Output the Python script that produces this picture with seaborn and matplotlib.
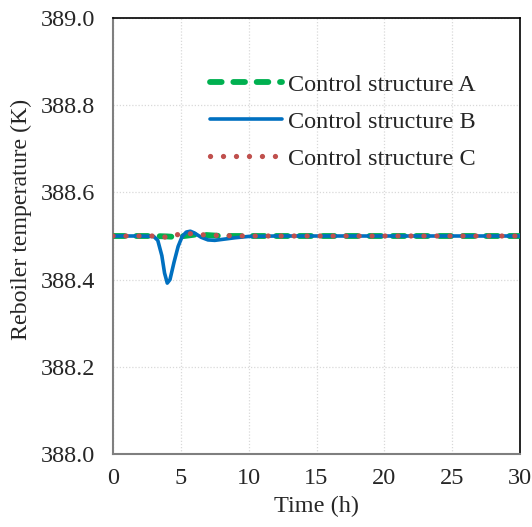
import matplotlib
matplotlib.use("Agg")
import matplotlib.pyplot as plt
import seaborn as sns
import pandas as pd

# Data
time_a = [0, 2, 3, 4, 4.5, 5, 5.5, 6, 6.5, 7, 7.5, 8, 10, 15, 20, 25, 30]
temp_a = [388.5, 388.5, 388.5, 388.499, 388.498, 388.499, 388.501, 388.503, 388.503, 388.502, 388.501, 388.5, 388.5, 388.5, 388.5, 388.5, 388.5]

time_b = [0, 1, 2, 3, 3.3, 3.6, 3.8, 4.0, 4.2, 4.5, 4.8, 5.1, 5.4, 5.7, 6.0, 6.5, 7.0, 7.5, 8.0, 9, 10, 12, 15, 20, 25, 30]
temp_b = [388.5, 388.5, 388.5, 388.499, 388.49, 388.455, 388.415, 388.392, 388.40, 388.44, 388.476, 388.499, 388.509, 388.511, 388.507, 388.497, 388.491, 388.49, 388.492, 388.496, 388.499, 388.5, 388.5, 388.5, 388.5, 388.5]

time_c = [0, 2, 3, 3.5, 4, 4.5, 5, 5.5, 6, 7, 8, 10, 15, 20, 25, 30]
temp_c = [388.5, 388.5, 388.5, 388.499, 388.497, 388.501, 388.505, 388.506, 388.504, 388.502, 388.501, 388.5, 388.5, 388.5, 388.5, 388.5]

labels = ["Control structure A", "Control structure B", "Control structure C"]
x_ticks = [0, 5, 10, 15, 20, 25, 30]
y_ticks = [388.0, 388.2, 388.4, 388.6, 388.8, 389.0]

df = pd.concat([
    pd.DataFrame({"t": time_a, "T": temp_a, "s": labels[0]}),
    pd.DataFrame({"t": time_b, "T": temp_b, "s": labels[1]}),
    pd.DataFrame({"t": time_c, "T": temp_c, "s": labels[2]}),
])

sns.set_style("white")
plt.rcParams["font.family"] = ["Liberation Serif", "DejaVu Serif"]

fig = plt.figure(figsize=(5.32, 5.27), dpi=100)
ax = fig.add_axes([113 / 532, 1 - 454 / 527, 407 / 532, 436 / 527])

styles = {
    labels[0]: dict(color="#00B050", lw=4.2, dashes=(2.0, 2.0), zorder=3),
    labels[1]: dict(color="#0070C0", lw=2.6, dashes=None, zorder=4),
    labels[2]: dict(color="#C0504D", lw=3.8, dashes=(0.01, 2.45), zorder=5),
}
for lab in labels:
    sub = df[df["s"] == lab]
    st = styles[lab]
    sns.lineplot(data=sub, x="t", y="T", ax=ax, label=lab, color=st["color"],
                 linewidth=st["lw"], zorder=st["zorder"])
    l = ax.get_lines()[-1]
    if st["dashes"] is not None:
        l.set_dashes(st["dashes"])
        l.set_dash_capstyle("round")

ax.set_xlim(0, 30)
ax.set_ylim(388.0, 389.0)
ax.set_xticks(x_ticks)
ax.set_yticks(y_ticks)
ax.set_xticklabels([str(v) for v in x_ticks])
ax.set_yticklabels([f"{v:.1f}" for v in y_ticks])
ax.tick_params(length=0, labelsize=17.5)
ax.tick_params(axis="y", pad=13)
ax.tick_params(axis="x", pad=10)
ax.set_xlabel("Time (h)", fontsize=17.5, labelpad=5)
ax.set_ylabel("Reboiler temperature (K)", fontsize=17.2)
ax.yaxis.set_label_coords(-0.2, 0.539)
ax.grid(True, color="#D9D9D9", linestyle=(0, (1, 1.5)), linewidth=0.9)

for side in ["left", "bottom"]:
    ax.spines[side].set_color("#7F7F7F")
    ax.spines[side].set_linewidth(1.5)
for side in ["top", "right"]:
    ax.spines[side].set_color("black")
    ax.spines[side].set_linewidth(1.2)

handles, labs = ax.get_legend_handles_labels()
leg = ax.legend(handles, labs, loc="upper left", bbox_to_anchor=(0.208, 0.9), frameon=False,
                fontsize=17.5, handlelength=2.95, handletextpad=0.25, labelspacing=0.62, borderpad=0)

fig.savefig("out.png", dpi=100)
